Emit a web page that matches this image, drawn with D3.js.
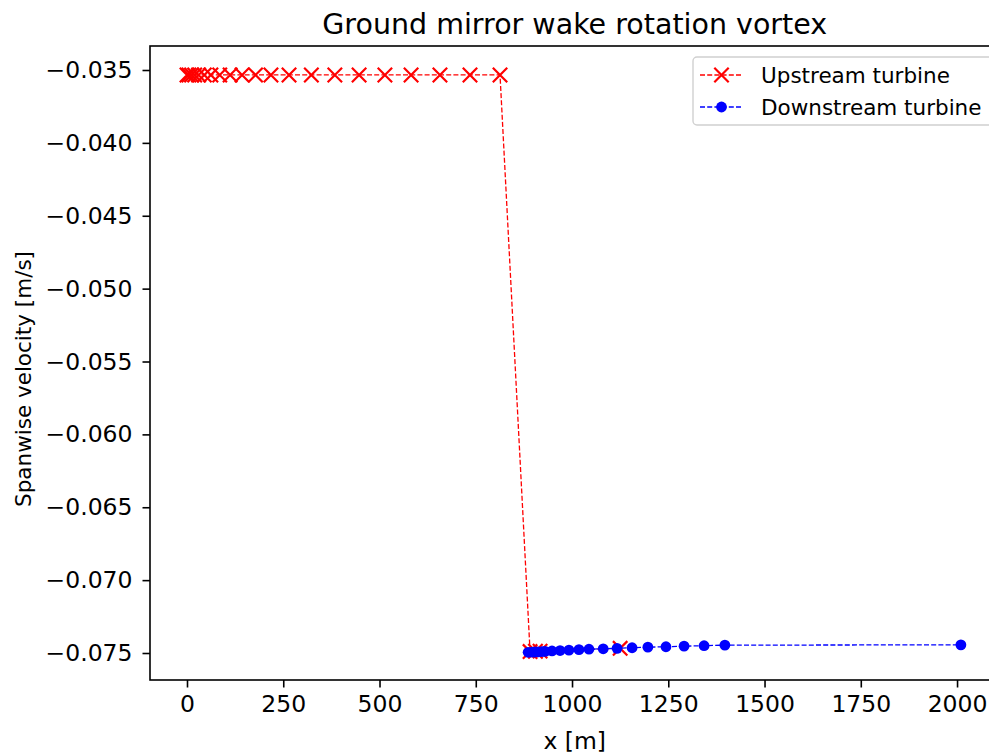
<!DOCTYPE html>
<html>
<head>
<meta charset="utf-8">
<script src="https://cdn.jsdelivr.net/npm/d3@7"></script>
<style>
  html, body { margin: 0; padding: 0; background: #fff; overflow: hidden; }
  svg { display: block; font-family: "DejaVu Sans", sans-serif; }
</style>
</head>
<body>
<svg id="chart" width="989" height="754"></svg>
<script>
// ---- data ----
const title = "Ground mirror wake rotation vortex";
const xLabel = "x [m]";
const yLabel = "Spanwise velocity [m/s]";
const seriesNames = ["Upstream turbine", "Downstream turbine"];

const upstreamX = [0, 5, 12, 20, 30, 45, 62, 85, 112, 143, 178, 218, 265, 323, 384, 447, 514, 582, 657, 735, 813,
                   891, 905, 917, 1125];
const upstreamY = [-0.03534, -0.03534, -0.03534, -0.03534, -0.03534, -0.03534, -0.03534, -0.03534, -0.03534,
                   -0.03534, -0.03534, -0.03534, -0.03534, -0.03534, -0.03534, -0.03534, -0.03534, -0.03534,
                   -0.03534, -0.03534, -0.03534,
                   -0.07490, -0.07488, -0.07487, -0.07468];

const downstreamX = [886, 896, 904, 912, 922, 930, 948, 969, 992, 1018, 1044, 1081, 1117, 1156, 1197, 1244, 1291, 1343, 1397, 2010];
const downstreamY = [-0.07495, -0.07494, -0.07493, -0.07492, -0.07490, -0.07489, -0.07486, -0.07483, -0.07480, -0.07477,
                     -0.07474, -0.07471, -0.07468, -0.07464, -0.07460, -0.07457, -0.07453, -0.07450, -0.07446, -0.07444];

const xTicks = [0, 250, 500, 750, 1000, 1250, 1500, 1750, 2000];
const yTicks = [-0.035, -0.040, -0.045, -0.050, -0.055, -0.060, -0.065, -0.070, -0.075];

// ---- layout ----
const svg = d3.select("#chart");
const pLeft = 150, pTop = 46, pBottom = 680, pRight = 999.4;

const x = d3.scaleLinear().domain([-96.1, 2110]).range([pLeft, pRight]);
const y = d3.scaleLinear().domain([-0.076852, -0.033353]).range([pBottom, pTop]);

const fontTick = 23.5;
const fontXLabel = 23.5;
const fontYLabel = 21.5;
const fontLegend = 21.5;
const minus = "\u2212";
const fmtY = v => (v < 0 ? minus : "") + Math.abs(v).toFixed(3);

// axes
const xAxis = d3.axisBottom(x).tickValues(xTicks).tickSize(7.5).tickPadding(8).tickFormat(d3.format("d"));
const yAxis = d3.axisLeft(y).tickValues(yTicks).tickSize(7.5).tickPadding(10).tickFormat(fmtY);

const gx = svg.append("g").attr("transform", `translate(0,${pBottom})`).call(xAxis);
const gy = svg.append("g").attr("transform", `translate(${pLeft},0)`).call(yAxis);
[gx, gy].forEach(g => {
  g.select(".domain").remove();
  g.selectAll(".tick line").attr("stroke", "#000").attr("stroke-width", 1.6);
  g.selectAll(".tick text").attr("fill", "#000").style("font-size", fontTick + "px")
    .style("font-family", "'DejaVu Sans', sans-serif");
});

// spines
svg.append("rect").attr("x", pLeft).attr("y", pTop)
  .attr("width", pRight - pLeft).attr("height", pBottom - pTop)
  .attr("fill", "none").attr("stroke", "#000").attr("stroke-width", 1.6);

// data lines
const line = d3.line().x(d => x(d[0])).y(d => y(d[1]));
const up = upstreamX.map((v, i) => [v, upstreamY[i]]);
const down = downstreamX.map((v, i) => [v, downstreamY[i]]);

const plot = svg.append("g");
plot.append("path").datum(up).attr("d", line).attr("fill", "none")
  .attr("stroke", "#ff0000").attr("stroke-width", 1.3).attr("stroke-dasharray", "5,2.2");
const xs = 7.2;
plot.selectAll(".upm").data(up).enter().append("path")
  .attr("d", d => {
    const cx = x(d[0]), cy = y(d[1]);
    return `M${cx - xs},${cy - xs}L${cx + xs},${cy + xs}M${cx - xs},${cy + xs}L${cx + xs},${cy - xs}`;
  })
  .attr("stroke", "#ff0000").attr("stroke-width", 2.2).attr("fill", "none");

plot.append("path").datum(down).attr("d", line).attr("fill", "none")
  .attr("stroke", "#0000ff").attr("stroke-width", 1.3).attr("stroke-dasharray", "5,2.2");
plot.selectAll(".dnm").data(down).enter().append("circle")
  .attr("cx", d => x(d[0])).attr("cy", d => y(d[1])).attr("r", 5.4)
  .attr("fill", "#0000ff");

// title & labels
svg.append("text").attr("x", (pLeft + pRight) / 2).attr("y", 34)
  .attr("text-anchor", "middle").style("font-size", "28.5px").text(title);
svg.append("text").attr("x", (pLeft + pRight) / 2).attr("y", 749)
  .attr("text-anchor", "middle").style("font-size", fontXLabel + "px").text(xLabel);
svg.append("text").attr("transform", `translate(31,${(pTop + pBottom) / 2 + 16}) rotate(-90)`)
  .attr("text-anchor", "middle").style("font-size", fontYLabel + "px").text(yLabel);

// legend
const lg = svg.append("g");
lg.append("rect").attr("x", 693).attr("y", 57).attr("width", 300).attr("height", 68).attr("rx", 4)
  .attr("fill", "#fff").attr("fill-opacity", 0.8).attr("stroke", "#d0d0d0").attr("stroke-width", 1.4);
const entries = [
  { name: seriesNames[0], color: "#ff0000", marker: "x", yy: 75 },
  { name: seriesNames[1], color: "#0000ff", marker: "o", yy: 107 }
];
entries.forEach(e => {
  lg.append("line").attr("x1", 700).attr("x2", 743).attr("y1", e.yy).attr("y2", e.yy)
    .attr("stroke", e.color).attr("stroke-width", 1.3).attr("stroke-dasharray", "5,2.2");
  if (e.marker === "x") {
    const cx = 721.5, cy = e.yy;
    lg.append("path").attr("d", `M${cx - xs},${cy - xs}L${cx + xs},${cy + xs}M${cx - xs},${cy + xs}L${cx + xs},${cy - xs}`)
      .attr("stroke", e.color).attr("stroke-width", 2.2);
  } else {
    lg.append("circle").attr("cx", 721.5).attr("cy", e.yy).attr("r", 5.4).attr("fill", e.color);
  }
  lg.append("text").attr("x", 761).attr("y", e.yy).attr("dy", "0.36em")
    .style("font-size", fontLegend + "px").text(e.name);
});
</script>
</body>
</html>
